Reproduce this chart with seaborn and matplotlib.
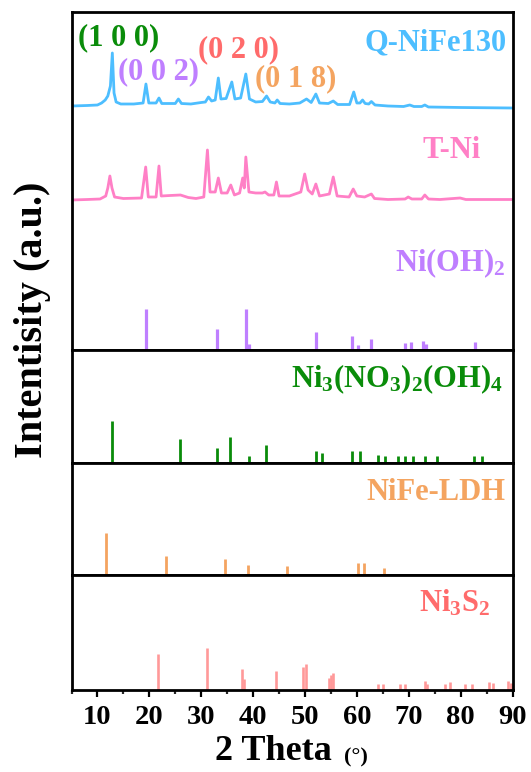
import numpy as np
import matplotlib
matplotlib.use("Agg")
import matplotlib.pyplot as plt
import seaborn as sns

# ---------------- data ----------------
# measured patterns: (2theta, intensity above own baseline, a.u.)
q_theta = [5.0, 8.0, 10.0, 10.8, 11.5, 12.0, 12.5, 12.87, 13.2, 13.6, 14.5, 17.0, 18.8, 19.35, 19.9,
           21.3, 21.86, 22.4, 25.0, 25.6, 26.2, 28.0, 30.0, 30.8, 31.4, 32.0, 32.7, 33.3, 33.8, 34.8,
           35.9, 36.5, 37.6, 38.6, 39.3, 40.5, 41.8, 42.6, 43.3, 44.2, 44.65, 45.2, 47.0, 49.0, 50.3,
           51.2, 52.1, 52.8, 54.5, 55.45, 56.3, 58.6, 59.4, 60.0, 60.6, 61.1, 61.6, 62.3, 62.8, 63.5,
           66.0, 69.0, 70.2, 71.0, 72.5, 73.1, 73.8, 80.0, 90.0]
q_int = [2, 2.5, 3, 5, 8, 12, 22, 55, 15, 6, 4, 4, 5, 24, 5,
         5, 10, 4.5, 4.5, 9, 4.5, 4, 5.5, 6, 11, 7, 8, 30, 9, 9.5,
         26, 9, 10, 34, 9, 6, 6.5, 12, 6, 5, 8, 4.5, 4, 5, 9,
         5.5, 14, 5, 4.5, 7, 3.5, 3.5, 16, 5, 5, 8, 4.5, 4, 6.5, 3,
         2, 1.5, 3, 1.5, 1.5, 3, 1, 0.5, 0]

t_theta = [5.0, 8.0, 10.5, 11.6, 12.0, 12.4, 12.8, 13.3, 15.0, 18.5, 19.3, 19.8, 21.3, 21.86, 22.3,
           24.0, 26.0, 27.5, 29.0, 30.5, 31.2, 31.7, 32.7, 33.3, 33.9, 35.0, 35.7, 36.4, 37.4, 38.0,
           38.3, 38.6, 39.2, 40.5, 41.8, 42.3, 43.0, 44.0, 44.5, 45.0, 47.0, 49.2, 49.95, 50.6, 51.4,
           52.1, 52.8, 54.7, 55.45, 56.2, 58.5, 59.3, 60.0, 61.5, 62.8, 63.4, 66.0, 69.3, 69.9, 70.6,
           72.5, 73.1, 73.8, 76.0, 79.9, 81.0, 90.0]
t_int = [0, 0.5, 1, 4, 12, 24, 12, 3, 1.5, 2, 33, 3, 3, 34, 4,
         4.5, 5, 2.5, 1.5, 3, 50, 8, 8, 22, 7, 7, 15, 5, 7, 22,
         12, 43, 8, 7, 7, 8, 5, 5, 18, 4, 4, 8, 26, 10, 6,
         16, 4, 6, 23, 4, 3, 11, 4, 3, 6, 1.5, 0.5, 1, 3, 1,
         1, 5, 1, 0.5, 2, 0.5, 0.5]

# reference cards (stick patterns)
nioh2_pos = [19.3, 33.1, 38.55, 39.2, 52.2, 59.1, 60.3, 62.75, 69.3, 70.5, 72.8, 73.4, 82.75]
nioh2_int = [41, 21, 41, 6, 18, 14, 5, 11, 7, 8, 9, 6, 8]

nno_pos = [12.9, 25.9, 33.1, 35.6, 39.2, 42.5, 52.2, 53.2, 59.0, 60.65, 64.0, 65.4, 68.0,
           69.25, 70.85, 73.1, 75.4, 82.6, 84.2]
nno_int = [41.6, 24, 15, 25.7, 7.3, 18.3, 11.6, 9.7, 11.6, 11.6, 8, 7.3, 6.7,
           7.3, 7.3, 6.7, 7.3, 6.7, 6.7]

ldh_pos = [11.6, 23.3, 34.6, 39.1, 46.5, 60.3, 61.35, 65.3]
ldh_int = [41.7, 19, 15.7, 10.3, 8.7, 11.7, 11.7, 7.3]

ni3s2_pos = [21.75, 31.2, 37.8, 38.25, 44.4, 49.7, 50.2, 54.6, 55.0, 55.45, 64.1, 65.0, 68.4,
             69.25, 73.1, 73.6, 77.0, 77.9, 80.8, 82.1, 85.45, 86.3, 89.2, 89.8]
ni3s2_int = [35.7, 41.7, 21.3, 11.3, 19.3, 22.7, 25.7, 12.3, 14.7, 16.7, 5.7, 5.7, 6.3,
             6.3, 9, 5.7, 6.3, 8, 6.3, 6.3, 8, 7, 9, 7.3]

x_ticks = [10, 20, 30, 40, 50, 60, 70, 80, 90]

# ---------------- style ----------------
sns.set_theme(style="ticks")
plt.rcParams["font.family"] = ["Liberation Serif", "DejaVu Serif"]
plt.rcParams["font.weight"] = "bold"
plt.rcParams["mathtext.fontset"] = "custom"
plt.rcParams["mathtext.rm"] = "Liberation Serif:bold"
plt.rcParams["mathtext.bf"] = "Liberation Serif:bold"
plt.rcParams["mathtext.it"] = "Liberation Serif:bold"
plt.rcParams["mathtext.default"] = "bf"

C_Q = "#4DBEFF"
C_T = "#FF80C6"
C_NIOH = "#BF7FFF"
C_GREEN = "#0A8C0A"
C_ORANGE = "#F4A460"
C_RED = "#FF6B6B"
C_RED_STICK = "#FF9999"

fig = plt.figure(figsize=(5.31, 7.72), dpi=100)
gs = fig.add_gridspec(4, 1, height_ratios=[338, 113, 112, 115], hspace=0,
                      left=71.5 / 531, right=512.5 / 531,
                      top=1 - 12 / 772, bottom=1 - 690 / 772)
axes = [fig.add_subplot(gs[i]) for i in range(4)]

T_OFF = 150
Q_OFF = 242

ax0 = axes[0]
sns.lineplot(x=q_theta, y=np.array(q_int) + Q_OFF, ax=ax0, color=C_Q, lw=2.0)
sns.lineplot(x=t_theta, y=np.array(t_int) + T_OFF, ax=ax0, color=C_T, lw=2.0)
ax0.vlines(nioh2_pos, 0, nioh2_int, color=C_NIOH, lw=2.3)
ax0.set_ylim(0, 338)

axes[1].vlines(nno_pos, 0, nno_int, color=C_GREEN, lw=2.0)
axes[2].vlines(ldh_pos, 0, ldh_int, color=C_ORANGE, lw=2.0)
axes[3].vlines(ni3s2_pos, 0, ni3s2_int, color=C_RED_STICK, lw=1.9)
axes[1].set_ylim(0, 113)
axes[2].set_ylim(0, 112)
axes[3].set_ylim(0, 115)

for ax in axes:
    ax.set_xlim(5, 90)
    ax.set_yticks([])
    for sp in ax.spines.values():
        sp.set_visible(True)
        sp.set_linewidth(2.0)
        sp.set_color("black")
    ax.set_xlabel("")
    ax.set_ylabel("")
for ax in axes[:3]:
    ax.set_xticks([])

axb = axes[3]
axb.set_xticks(x_ticks)
axb.set_xticks(np.arange(5, 91, 5), minor=True)
axb.tick_params(axis="x", which="major", direction="out", length=5, width=1.6,
                labelsize=20.5, pad=6, colors="black")
axb.tick_params(axis="x", which="minor", direction="out", length=2.6, width=1.6)
for lab in axb.get_xticklabels():
    lab.set_fontweight("bold")

# ---------------- labels ----------------
def ftext(x, y, s, color, size=22, ha="right", va="center", **kw):
    fig.text(x / 531, 1 - y / 772, s, color=color, fontsize=size, ha=ha, va=va,
             fontweight="bold", **kw)

ftext(507, 42.5, "Q-NiFe130", C_Q)
ftext(78, 38, "(1 0 0)", C_GREEN, ha="left")
ftext(118, 71.5, "(0 0 2)", C_NIOH, ha="left")
ftext(198, 50, "(0 2 0)", C_RED, ha="left")
ftext(255, 79, "(0 1 8)", C_ORANGE, ha="left")
ftext(481, 151, "T-Ni", C_T)
ftext(505, 263, r"Ni(OH)$_{2}$", C_NIOH)
ftext(503, 379, r"Ni$_{3}$(NO$_{3}$)$_{2}$(OH)$_{4}$", C_GREEN)
ftext(505, 492, "NiFe-LDH", C_ORANGE)
ftext(490, 603, r"Ni$_{3}$S$_{2}$", C_RED)

ftext(33, 320, "Intentisity (a.u.)", "black", size=29, ha="center", rotation=90)
ftext(273, 751, "2 Theta", "black", size=26, ha="center")
ftext(356, 757, "(°)", "black", size=16, ha="center")

fig.savefig("out.png", dpi=100)
